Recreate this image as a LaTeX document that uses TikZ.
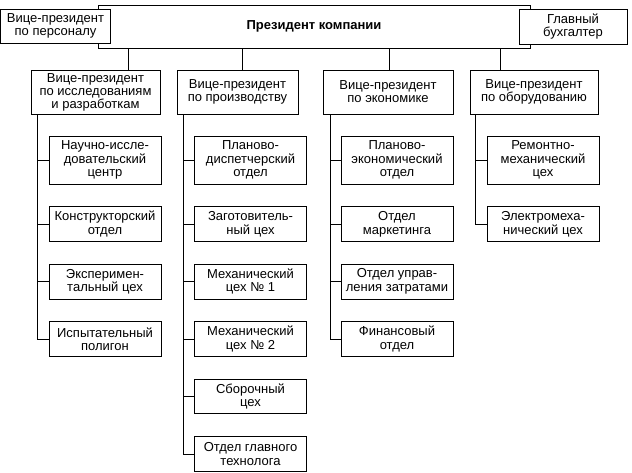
\documentclass[tikz,border=0pt]{standalone}
\usepackage{fontspec}
\setmainfont{Liberation Sans}
\usepackage{tikz}
\usetikzlibrary{positioning}

\begin{document}
\begin{tikzpicture}[
    x=0.75pt, y=-0.75pt,
    node distance=16.5pt,
    topbox/.style={draw, rectangle, fill=white, align=center, inner sep=2pt, line width=0.6pt, font=\fontsize{9.75}{10}\selectfont},
    vpbox/.style={draw, rectangle, fill=white, align=center, inner sep=1.5pt, minimum height=33pt, line width=0.6pt, font=\fontsize{9.75}{9.8}\selectfont},
    subbox/.style={draw, rectangle, fill=white, align=center, inner sep=2pt, minimum width=84pt, minimum height=26pt, line width=0.6pt, font=\fontsize{9.75}{10.2}\selectfont},
    link/.style={line width=0.6pt, draw=black}
]
    \useasboundingbox (0,0) rectangle (632,472);

    % Top row
    \node[topbox, minimum width=324pt, minimum height=32.25pt] (pres) at (314,26.5) {\textbf{Президент компании}};
    \node[topbox, minimum width=82.5pt, minimum height=25.5pt] (perso) at (55.5,26) {Вице-президент\\по персоналу};
    \node[topbox, minimum width=81pt, minimum height=26.25pt] (buh) at (573,26.5) {Главный\\бухгалтер};

    % Vice-presidents
    \node[vpbox, minimum width=96.75pt] (rd) at (95.5,92) {Вице-президент\\по исследованиям\\и разработкам};
    \node[vpbox, minimum width=90.75pt] (prod) at (237.5,92) {Вице-президент\\по производству};
    \node[vpbox, minimum width=97.5pt] (econ) at (388,92) {Вице-президент\\по экономике};
    \node[vpbox, minimum width=96pt] (equip) at (534,92) {Вице-президент\\по оборудованию};

    % R&D column
    \node[subbox, minimum height=36pt] (rdA) at (105,160) {Научно-иссле-\\довательский\\центр};
    \node[subbox, below=of rdA] (rdB) {Конструкторский\\отдел};
    \node[subbox, below=of rdB] (rdC) {Эксперимен-\\тальный цех};
    \node[subbox, below=of rdC] (rdD) {Испытательный\\полигон};

    % Production column
    \node[subbox, minimum height=36pt] (prodA) at (250.5,160) {Планово-\\диспетчерский\\отдел};
    \node[subbox, below=of prodA] (prodB) {Заготовитель-\\ный цех};
    \node[subbox, below=of prodB] (prodC) {Механический\\цех № 1};
    \node[subbox, below=of prodC] (prodD) {Механический\\цех № 2};
    \node[subbox, below=of prodD] (prodE) {Сборочный\\цех};
    \node[subbox, below=of prodE] (prodF) {Отдел главного\\технолога};

    % Economics column
    \node[subbox, minimum height=36pt] (econA) at (397,160) {Планово-\\экономический\\отдел};
    \node[subbox, below=of econA] (econB) {Отдел\\маркетинга};
    \node[subbox, below=of econB] (econC) {Отдел управ-\\ления затратами};
    \node[subbox, below=of econC] (econD) {Финансовый\\отдел};

    % Equipment column
    \node[subbox, minimum height=36pt] (equipA) at (543,160) {Ремонтно-\\механический\\цех};
    \node[subbox, below=of equipA] (equipB) {Электромеха-\\нический цех};

    % Draw Connections
    \draw[link] ([xshift=25pt]rd.north) -- ([xshift=25pt]rd.north |- pres.south);
    \draw[link] ([xshift=3.5pt]prod.north) -- ([xshift=3.5pt]prod.north |- pres.south);
    \draw[link] ([xshift=1pt]econ.north) -- ([xshift=1pt]econ.north |- pres.south);
    \draw[link] ([xshift=-25.5pt]equip.north) -- ([xshift=-25.5pt]equip.north |- pres.south);

    \draw[link] ([xshift=5pt]rd.south west) |- (rdA.west);
    \draw[link] ([xshift=5pt]rd.south west) |- (rdB.west);
    \draw[link] ([xshift=5pt]rd.south west) |- (rdC.west);
    \draw[link] ([xshift=5pt]rd.south west) |- (rdD.west);

    \draw[link] ([xshift=5pt]prod.south west) |- (prodA.west);
    \draw[link] ([xshift=5pt]prod.south west) |- (prodB.west);
    \draw[link] ([xshift=5pt]prod.south west) |- (prodC.west);
    \draw[link] ([xshift=5pt]prod.south west) |- (prodD.west);
    \draw[link] ([xshift=5pt]prod.south west) |- (prodE.west);
    \draw[link] ([xshift=5pt]prod.south west) |- (prodF.west);

    \draw[link] ([xshift=6pt]econ.south west) |- (econA.west);
    \draw[link] ([xshift=6pt]econ.south west) |- (econB.west);
    \draw[link] ([xshift=6pt]econ.south west) |- (econC.west);
    \draw[link] ([xshift=6pt]econ.south west) |- (econD.west);

    \draw[link] ([xshift=4.5pt]equip.south west) |- (equipA.west);
    \draw[link] ([xshift=4.5pt]equip.south west) |- (equipB.west);

\end{tikzpicture}
\end{document}
